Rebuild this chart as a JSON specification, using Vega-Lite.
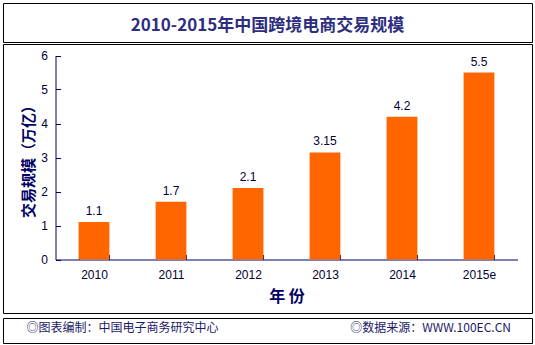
{
  "$schema": "https://vega.github.io/schema/vega-lite/v6.json",
  "padding": {"left": 2, "top": 2, "right": 4, "bottom": 4},
  "background": "white",
  "config": {
    "view": {"stroke": "#000000", "strokeWidth": 1},
    "font": "Noto Sans CJK SC"
  },
  "datasets": {
    "heading": [{"text": "2010-2015年中国跨境电商交易规模"}],
    "trade": [
      {"year": "2010", "value": 1.1},
      {"year": "2011", "value": 1.7},
      {"year": "2012", "value": 2.1},
      {"year": "2013", "value": 3.15},
      {"year": "2014", "value": 4.2},
      {"year": "2015e", "value": 5.5}
    ],
    "notes": [
      {"role": "制图", "text": "◎图表编制：中国电子商务研究中心"},
      {"role": "来源", "text": "◎数据来源：WWW.100EC.CN"}
    ]
  },
  "spacing": 3,
  "vconcat": [
    {
      "spacing": 0,
      "vconcat": [
        {
          "width": 529,
          "height": 39,
          "data": {"name": "heading"},
          "view": {"stroke": "#000000"},
          "mark": {"type": "text", "fontSize": 17, "fontWeight": "bold", "color": "#2E2E80", "dy": 3},
          "encoding": {
            "x": {"field": "text", "type": "nominal", "axis": null, "scale": {"type": "point", "padding": 0.5}},
            "text": {"field": "text", "type": "nominal"}
          }
        },
        {
          "width": 529,
          "height": 269,
          "data": {"name": "trade"},
          "encoding": {
            "x": {
              "field": "year",
              "type": "ordinal",
              "sort": null,
              "scale": {"range": [52.5, 514.5], "paddingInner": 0.6, "paddingOuter": 0.3},
              "axis": {
                "orient": "bottom",
                "offset": -53.5,
                "title": "年 份",
                "titleFontSize": 16,
                "titleFontWeight": "bold",
                "titleColor": "#000066",
                "titlePadding": 8,
                "labelFont": "Liberation Sans",
                "labelFontSize": 12,
                "labelColor": "#000033",
                "labelPadding": 15,
                "labelAngle": 0,
                "tickBand": "extent",
                "tickSize": -5,
                "tickColor": "#000066",
                "domainColor": "#000066",
                "grid": false
              }
            },
            "y": {
              "field": "value",
              "type": "quantitative",
              "scale": {"domain": [0, 6], "range": [215.5, 11.5], "nice": false},
              "axis": {
                "orient": "left",
                "offset": -52.5,
                "values": [0, 1, 2, 3, 4, 5, 6],
                "title": "交易规模（万亿）",
                "titleFontSize": 15,
                "titleFontWeight": "bold",
                "titleColor": "#000066",
                "titlePadding": 4,
                "labelFont": "Liberation Sans",
                "labelFontSize": 12,
                "labelColor": "#000033",
                "labelPadding": 13,
                "tickSize": -5,
                "tickColor": "#000066",
                "domainColor": "#000066",
                "grid": false
              }
            }
          },
          "layer": [
            {"mark": {"type": "bar", "color": "#FF6600"}},
            {
              "mark": {"type": "text", "baseline": "bottom", "dy": -4, "fontSize": 12, "font": "Liberation Sans", "color": "#000033"},
              "encoding": {"text": {"field": "value", "type": "quantitative", "format": ""}}
            }
          ]
        }
      ]
    },
    {
      "width": 529,
      "height": 25,
      "data": {"name": "notes"},
      "encoding": {
        "x": {
          "field": "role",
          "type": "nominal",
          "sort": null,
          "scale": {"type": "point", "range": [23.5, 508], "padding": 0},
          "axis": null
        },
        "text": {"field": "text", "type": "nominal"}
      },
      "layer": [
        {
          "transform": [{"filter": "datum.role == '制图'"}],
          "mark": {"type": "text", "align": "left", "fontSize": 12, "color": "#1a1a66", "dy": -3}
        },
        {
          "transform": [{"filter": "datum.role == '来源'"}],
          "mark": {"type": "text", "align": "right", "fontSize": 12, "color": "#1a1a66", "dy": -3}
        }
      ]
    }
  ]
}
